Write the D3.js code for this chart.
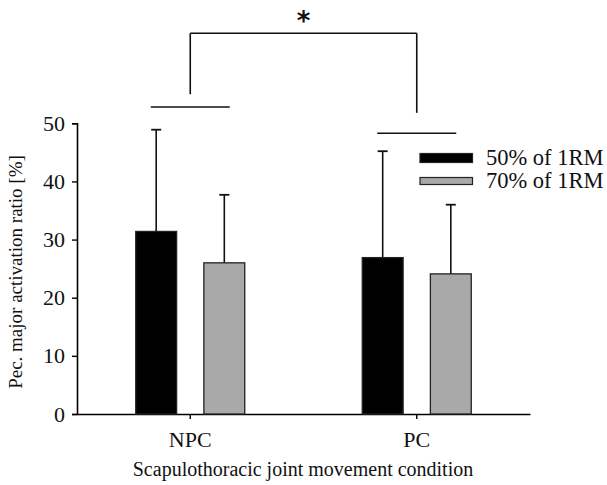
<!DOCTYPE html>
<html>
<head>
<meta charset="utf-8">
<script src="https://cdn.jsdelivr.net/npm/d3@7"></script>
<style>
  body { margin: 0; background: #fff; }
  text { font-family: "Liberation Serif", "Times New Roman", serif; fill: #111; }
</style>
</head>
<body>
<div id="chart"></div>
<script>
// data
var groups = ["NPC", "PC"];
var series = ["50% of 1RM", "70% of 1RM"];
var means50 = [31.4, 26.9];
var means70 = [26.0, 24.1];
var sd50 = [17.5, 18.3];
var sd70 = [11.7, 11.9];
var yTicks = [0, 10, 20, 30, 40, 50];
var colors = ["#000000", "#a9a9a9"];

var W = 607, H = 485;
var svg = d3.select("#chart").append("svg")
  .attr("width", W)
  .attr("height", H);

var x = d3.scaleBand()
  .domain(groups)
  .range([77, 530]);

var inner = d3.scaleBand()
  .domain(series)
  .range([-54.5, 54.5])
  .paddingInner(0.4);

var y = d3.scaleLinear()
  .domain([0, 50])
  .range([414, 123.3]);

// axes
var yAxis = d3.axisLeft(y).tickValues(yTicks).tickSize(5).tickPadding(7);
var gy = svg.append("g").attr("transform", "translate(77,0)").call(yAxis);
gy.select(".domain").attr("stroke-width", 1.6);
gy.selectAll(".tick line").attr("stroke-width", 1.4);
gy.selectAll(".tick text").style("font-size", "22px").style("font-family", "Liberation Serif");

var xAxis = d3.axisBottom(x).tickSize(5).tickSizeOuter(0).tickPadding(12);
var gx = svg.append("g").attr("transform", "translate(0,414)").call(xAxis);
gx.select(".domain").attr("stroke-width", 1.6);
gx.selectAll(".tick line").attr("stroke-width", 1.4);
gx.selectAll(".tick text").style("font-size", "22px").style("font-family", "Liberation Serif");

// bars
var rows = [];
groups.forEach(function(g, i) {
  rows.push({ g: g, s: series[0], m: means50[i], sd: sd50[i], c: colors[0] });
  rows.push({ g: g, s: series[1], m: means70[i], sd: sd70[i], c: colors[1] });
});

function cx(d) { return x(d.g) + x.bandwidth() / 2 + inner(d.s); }

// error bars (upper only)
svg.selectAll(".err").data(rows).enter().append("line")
  .attr("x1", function(d) { return cx(d) + inner.bandwidth() / 2; })
  .attr("x2", function(d) { return cx(d) + inner.bandwidth() / 2; })
  .attr("y1", function(d) { return y(d.m); })
  .attr("y2", function(d) { return y(d.m + d.sd); })
  .attr("stroke", "#111").attr("stroke-width", 1.6);

svg.selectAll(".cap").data(rows).enter().append("line")
  .attr("x1", function(d) { return cx(d) + inner.bandwidth() / 2 - 5; })
  .attr("x2", function(d) { return cx(d) + inner.bandwidth() / 2 + 5; })
  .attr("y1", function(d) { return y(d.m + d.sd); })
  .attr("y2", function(d) { return y(d.m + d.sd); })
  .attr("stroke", "#111").attr("stroke-width", 1.8);

svg.selectAll(".bar").data(rows).enter().append("rect")
  .attr("x", function(d) { return cx(d); })
  .attr("y", function(d) { return y(d.m); })
  .attr("width", inner.bandwidth())
  .attr("height", function(d) { return y(0) - y(d.m); })
  .attr("fill", function(d) { return d.c; })
  .attr("stroke", "#222")
  .attr("stroke-width", 1.3);

// significance lines
var groupLines = [52.8, 48.3];
var bracketTop = 65.5;
var bracketEnds = [55, 51.8];

groups.forEach(function(g, i) {
  var c = x(g) + x.bandwidth() / 2;
  svg.append("line")
    .attr("x1", c - 39.5).attr("x2", c + 39.5)
    .attr("y1", y(groupLines[i])).attr("y2", y(groupLines[i]))
    .attr("stroke", "#111").attr("stroke-width", 1.6);
  svg.append("line")
    .attr("x1", c).attr("x2", c)
    .attr("y1", y(bracketTop)).attr("y2", y(bracketEnds[i]))
    .attr("stroke", "#111").attr("stroke-width", 1.6);
});

var c0 = x(groups[0]) + x.bandwidth() / 2, c1 = x(groups[1]) + x.bandwidth() / 2;
svg.append("line")
  .attr("x1", c0).attr("x2", c1)
  .attr("y1", y(bracketTop)).attr("y2", y(bracketTop))
  .attr("stroke", "#111").attr("stroke-width", 1.6);

svg.append("text")
  .attr("x", (c0 + c1) / 2).attr("y", 30)
  .attr("text-anchor", "middle")
  .style("font-family", "DejaVu Sans")
  .style("font-weight", "bold")
  .style("font-size", "26px")
  .text("*");

// legend
var legend = svg.append("g");
series.forEach(function(s, i) {
  var ly = 158 + i * 23;
  legend.append("rect")
    .attr("x", 420).attr("y", ly - (i === 0 ? 4.5 : 3.5))
    .attr("width", 52.5).attr("height", i === 0 ? 9 : 7)
    .attr("fill", colors[i]).attr("stroke", "#222").attr("stroke-width", 1.2);
  legend.append("text")
    .attr("x", 486).attr("y", ly + 7)
    .style("font-size", "22.5px")
    .text(s);
});

// axis titles
svg.append("text")
  .attr("x", 303).attr("y", 476)
  .attr("text-anchor", "middle")
  .style("font-size", "20px")
  .text("Scapulothoracic joint movement condition");

svg.append("text")
  .attr("transform", "translate(22,272) rotate(-90)")
  .attr("text-anchor", "middle")
  .style("font-size", "19px")
  .text("Pec. major activation ratio [%]");
</script>
</body>
</html>
